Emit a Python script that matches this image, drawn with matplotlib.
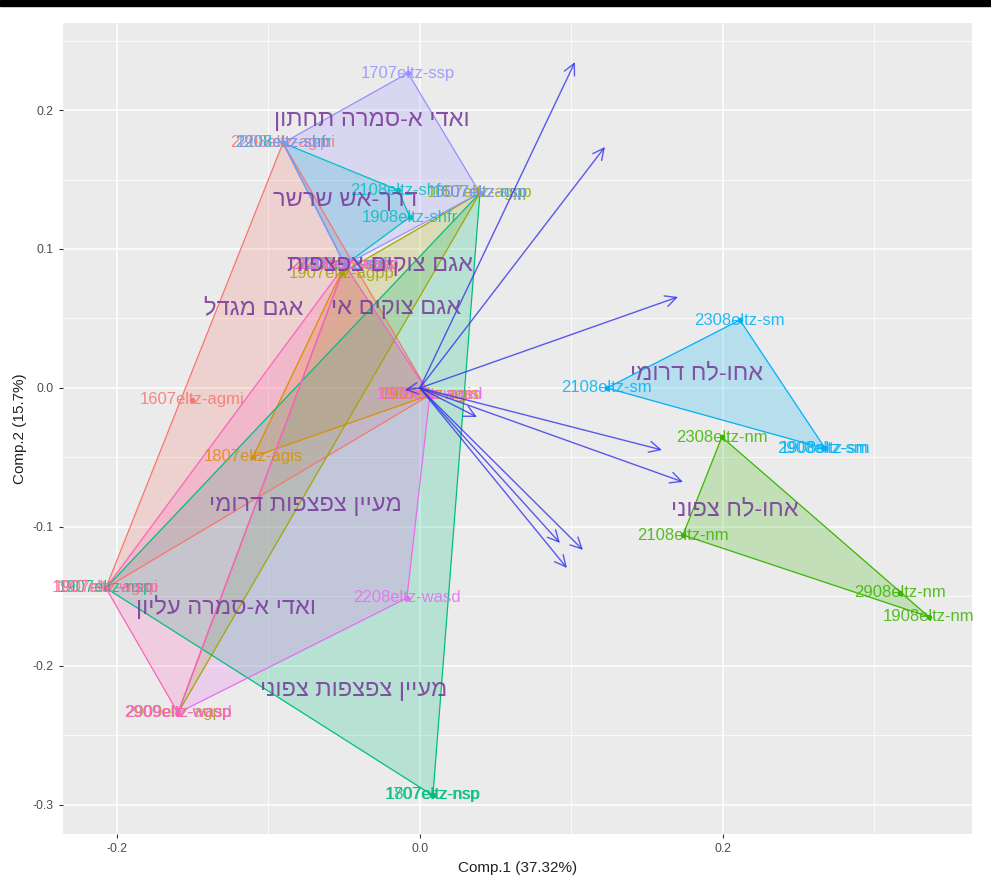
import numpy as np
import matplotlib
matplotlib.use("Agg")
import matplotlib.pyplot as plt
from matplotlib.patches import Polygon, Rectangle

plt.rcParams['font.family'] = ['Liberation Sans', 'DejaVu Sans']

# samples: name, group, PC1, PC2
sample_names = ["2208eltz-agmi", "1607eltz-agmi", "1907eltz-agmi", "1908eltz-agmi",
                "2208eltz-agis", "1907eltz-agis", "1807eltz-agis",
                "1607eltz-agpp", "1907eltz-agpp", "2909eltz-agpp",
                "2308eltz-nm", "2108eltz-nm", "2908eltz-nm", "1908eltz-nm",
                "1607eltz-nsp", "1907eltz-nsp", "1707eltz-nsp", "1807eltz-nsp",
                "2208eltz-shfr", "2108eltz-shfr", "1908eltz-shfr", "2308eltz-shfr",
                "2308eltz-sm", "2108eltz-sm", "2908eltz-sm", "1908eltz-sm",
                "1707eltz-ssp", "1907eltz-ssp", "1607eltz-ssp", "2208eltz-ssp",
                "2108eltz-wasd", "1908eltz-wasd", "2208eltz-wasd", "2909eltz-wasd",
                "1907eltz-wasp", "2208eltz-wasp", "2909eltz-wasp"]
sample_group = ["agmi"] * 4 + ["agis"] * 3 + ["agpp"] * 3 + ["nm"] * 4 + ["nsp"] * 4 + \
               ["shfr"] * 4 + ["sm"] * 4 + ["ssp"] * 4 + ["wasd"] * 4 + ["wasp"] * 3
pc1 = [-0.0904, -0.1505, -0.2073, 0.0066,
       -0.0495, 0.0066, -0.1102,
       0.0396, -0.0515, -0.1597,
       0.1993, 0.1736, 0.3168, 0.3360,
       0.0396, -0.2073, 0.0080, 0.0086,
       -0.0904, -0.0145, -0.0066, -0.0495,
       0.2112, 0.1234, 0.2660, 0.2673,
       -0.0079, -0.0904, 0.0396, -0.0495,
       -0.0495, 0.0066, -0.0086, -0.1597,
       -0.2073, -0.0495, -0.1597]
pc2 = [0.1763, -0.0086, -0.1439, -0.0050,
       0.0885, -0.0050, -0.0496,
       0.1403, 0.0827, -0.2338,
       -0.0353, -0.1058, -0.1475, -0.1647,
       0.1403, -0.1439, -0.2928, -0.2928,
       0.1763, 0.1424, 0.1230, 0.0885,
       0.0489, 0.0000, -0.0432, -0.0432,
       0.2266, 0.1763, 0.1403, 0.0885,
       0.0885, -0.0050, -0.1511, -0.2338,
       -0.1439, 0.0885, -0.2338]

groups = ["agmi", "agis", "agpp", "nm", "nsp", "shfr", "sm", "ssp", "wasd", "wasp"]
group_colors = ["#F8766D", "#D89000", "#A3A500", "#39B600", "#00BF7D",
                "#00BFC4", "#00B0F6", "#9590FF", "#E76BF3", "#FF62BC"]

# site names and where they are written
site_names = ["ואדי א-סמרה תחתון", "דרך-אש שרשר", "אגם צוקים צפצפות", "אגם צוקים אי",
              "אגם מגדל", "אחו-לח דרומי", "מעיין צפצפות דרומי", "אחו-לח צפוני",
              "ואדי א-סמרה עליון", "מעיין צפצפות צפוני"]
site_x = [-0.0317, -0.0495, -0.0264, -0.0158, -0.1096, 0.1828, -0.0759, 0.2079, -0.1281, -0.0436]
site_y = [0.1928, 0.1353, 0.0885, 0.0576, 0.0576, 0.0108, -0.0842, -0.0871, -0.1576, -0.2173]

# variable loadings (arrows)
load_x = [0.1023, 0.1221, 0.1703, 0.1597, 0.1736, 0.0924, 0.1076, 0.0970, -0.0099, 0.0376]
load_y = [0.2345, 0.1734, 0.0655, -0.0446, -0.0676, -0.1115, -0.1165, -0.1295, -0.0014, -0.0209]


def hull(pts):
    pts = sorted(set(pts))
    if len(pts) < 3:
        return pts
    def cross(o, a, b):
        return (a[0] - o[0]) * (b[1] - o[1]) - (a[1] - o[1]) * (b[0] - o[0])
    lower, upper = [], []
    for p in pts:
        while len(lower) >= 2 and cross(lower[-2], lower[-1], p) <= 0:
            lower.pop()
        lower.append(p)
    for p in reversed(pts):
        while len(upper) >= 2 and cross(upper[-2], upper[-1], p) <= 0:
            upper.pop()
        upper.append(p)
    return lower[:-1] + upper[:-1]


fig = plt.figure(figsize=(9.91, 8.89), dpi=100)
ax = fig.add_axes([63 / 991, 1 - 834 / 889, 909 / 991, 811 / 889])
fig.patches.append(Rectangle((0, 1 - 6 / 889), 1, 6 / 889, transform=fig.transFigure,
                             color="black", zorder=10))

ax.set_facecolor("#EBEBEB")
ax.set_xlim(-0.2356, 0.3644)
ax.set_ylim(-0.3209, 0.2626)
ax.set_xticks([-0.2, 0.0, 0.2])
ax.set_xticklabels(["-0.2", "0.0", "0.2"])
ax.set_yticks([-0.3, -0.2, -0.1, 0.0, 0.1, 0.2])
ax.set_yticklabels(["-0.3", "-0.2", "-0.1", "0.0", "0.1", "0.2"])
ax.set_xticks([-0.1, 0.1, 0.3], minor=True)
ax.set_yticks([-0.25, -0.15, -0.05, 0.05, 0.15, 0.25], minor=True)
ax.grid(True, which="major", color="white", linewidth=1.1)
ax.grid(True, which="minor", color="white", linewidth=0.55)
ax.set_axisbelow(True)
for s in ax.spines.values():
    s.set_visible(False)
ax.tick_params(which="major", length=3, color="#333333", labelsize=8.8, labelcolor="#4D4D4D")
ax.tick_params(which="minor", length=0)

pc1 = np.array(pc1)
pc2 = np.array(pc2)
sample_group = np.array(sample_group)

for g, col in zip(groups, group_colors):
    m = sample_group == g
    h = hull(list(zip(pc1[m], pc2[m])))
    ax.add_patch(Polygon(h, closed=True, facecolor=col, alpha=0.22, edgecolor="none", zorder=1))
    ax.add_patch(Polygon(h, closed=True, facecolor="none", edgecolor=col, linewidth=0.9, zorder=1.5))

for g, col in zip(groups, group_colors):
    m = sample_group == g
    ax.plot(pc1[m], pc2[m], "o", color=col, markersize=3, zorder=2)
    for nm, x, y in zip(np.array(sample_names)[m], pc1[m], pc2[m]):
        ax.text(x, y, nm, color=col, fontsize=12, ha="center", va="center", alpha=0.85, zorder=3)

for lx, ly in zip(load_x, load_y):
    ax.annotate("", xy=(lx, ly), xytext=(0, 0),
                arrowprops=dict(arrowstyle="->,head_length=0.5,head_width=0.25", color="#3333EE",
                                alpha=0.8, lw=1, mutation_scale=16, shrinkA=0, shrinkB=0),
                zorder=4)

# matplotlib has no bidi, so Hebrew is reversed for display
for nm, x, y in zip(site_names, site_x, site_y):
    ax.text(x, y, nm[::-1], color="#7B3F9E", fontsize=17, ha="center", va="center",
            alpha=0.9, zorder=5)

ax.set_xlabel("Comp.1 (37.32%)", fontsize=11, color="#222222", labelpad=4)
ax.set_ylabel("Comp.2 (15.7%)", fontsize=11, color="#222222", labelpad=4)

fig.savefig("out.png", dpi=100, facecolor="white")
